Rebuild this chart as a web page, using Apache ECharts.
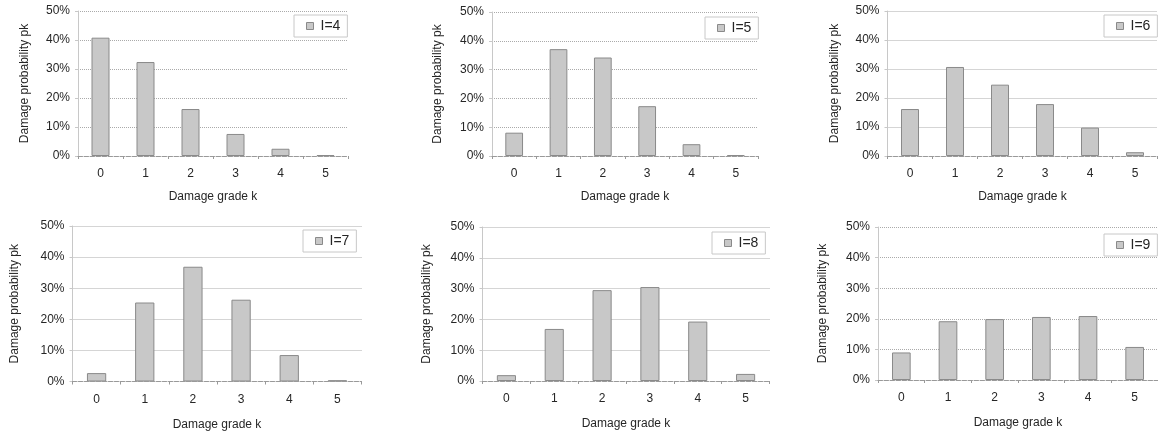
<!DOCTYPE html>
<html><head><meta charset="utf-8">
<script src="https://cdn.jsdelivr.net/npm/echarts@6/dist/echarts.min.js"></script>
<style>html,body{margin:0;padding:0;background:#fff}#c{width:1158px;height:433px}</style>
</head><body><div id="c"></div>
<script>
const categories = ['0','1','2','3','4','5'];
const yTicks = [0, 10, 20, 30, 40, 50];
const seriesNames = ['I=4','I=5','I=6','I=7','I=8','I=9'];
const valuesI4 = [40.8, 32.4, 16.2, 7.6, 2.5, 0.3];
const valuesI5 = [8.1, 37.1, 34.2, 17.3, 4.1, 0.3];
const valuesI6 = [16.2, 30.7, 24.6, 17.9, 9.8, 1.3];
const valuesI7 = [2.7, 25.4, 36.9, 26.3, 8.5, 0.4];
const valuesI8 = [1.9, 16.9, 29.5, 30.5, 19.3, 2.3];
const valuesI9 = [9.0, 19.2, 19.9, 20.6, 20.9, 10.8];
const allValues = [valuesI4, valuesI5, valuesI6, valuesI7, valuesI8, valuesI9];

const layouts = [
  {grid:{left:78, top:11, width:270, height:145}, legend:{left:294, top:15}, yGap:47, xGap:35, xMargin:12},
  {grid:{left:492, top:12, width:266, height:144}, legend:{left:705, top:17}, yGap:48, xGap:35, xMargin:12},
  {grid:{left:887.5, top:11, width:270, height:145}, legend:{left:1104, top:15}, yGap:47, xGap:35, xMargin:12},
  {grid:{left:72.5, top:226, width:289, height:155.5}, legend:{left:303, top:230}, yGap:52, xGap:37, xMargin:12},
  {grid:{left:482.5, top:227, width:287, height:154}, legend:{left:712, top:232}, yGap:50, xGap:37, xMargin:12},
  {grid:{left:878, top:227, width:282, height:153}, legend:{left:1104, top:234}, yGap:49, xGap:37, xMargin:12}
];

const txt = '#262626';
const font = 'Liberation Sans, Arial, sans-serif';
const option = {
  animation:false,
  textStyle:{fontFamily:font},
  grid:[], xAxis:[], yAxis:[], series:[], legend:[]
};
layouts.forEach((L,i)=>{
  option.grid.push(Object.assign({containLabel:false}, L.grid));
  option.xAxis.push({
    type:'category', gridIndex:i, data:categories,
    name:'Damage grade k', nameLocation:'middle', nameGap:L.xGap,
    nameTextStyle:{color:txt, fontSize:12, fontFamily:font},
    axisLine:{show:true, lineStyle:{color:'#999', type:'dashed', width:1}},
    axisTick:{show:true, length:3, lineStyle:{color:'#999'}},
    axisLabel:{color:txt, fontSize:12, fontFamily:font, margin:L.xMargin},
    z:5
  });
  option.yAxis.push({
    type:'value', gridIndex:i, min:yTicks[0], max:yTicks[yTicks.length-1], interval:10,
    name:'Damage probability pk', nameLocation:'middle', nameGap:L.yGap,
    nameTextStyle:{color:txt, fontSize:12, fontFamily:font},
    axisLine:{show:true, lineStyle:{color:'#c8c8c8', width:1}},
    axisTick:{show:true, length:3, lineStyle:{color:'#c8c8c8'}},
    axisLabel:{color:txt, fontSize:12, fontFamily:font, margin:8, formatter:v=>v+'%'},
    splitLine:{show:true, lineStyle:{color:'#aaa', type:'dotted', width:1}}
  });
  option.series.push({
    type:'bar', name:seriesNames[i], xAxisIndex:i, yAxisIndex:i,
    data:allValues[i], barWidth:'40%',
    itemStyle:{color:'#c8c8c8', borderColor:'#8a8a8a', borderWidth:1}
  });
  option.legend.push({
    data:[seriesNames[i]], left:L.legend.left, top:L.legend.top,
    orient:'horizontal', icon:'rect', itemWidth:7, itemHeight:7,
    itemStyle:{color:'#c8c8c8', borderColor:'#8a8a8a', borderWidth:1},
    padding:[4,7,4,12], borderColor:'#c8c8c8', borderWidth:1, backgroundColor:'#fff',
    textStyle:{color:txt, fontSize:14, fontFamily:font, padding:[0,0,0,2]},
    selectedMode:false
  });
});
const chart = echarts.init(document.getElementById('c'), null, {renderer:'canvas'});
chart.setOption(option);
</script>
</body></html>
